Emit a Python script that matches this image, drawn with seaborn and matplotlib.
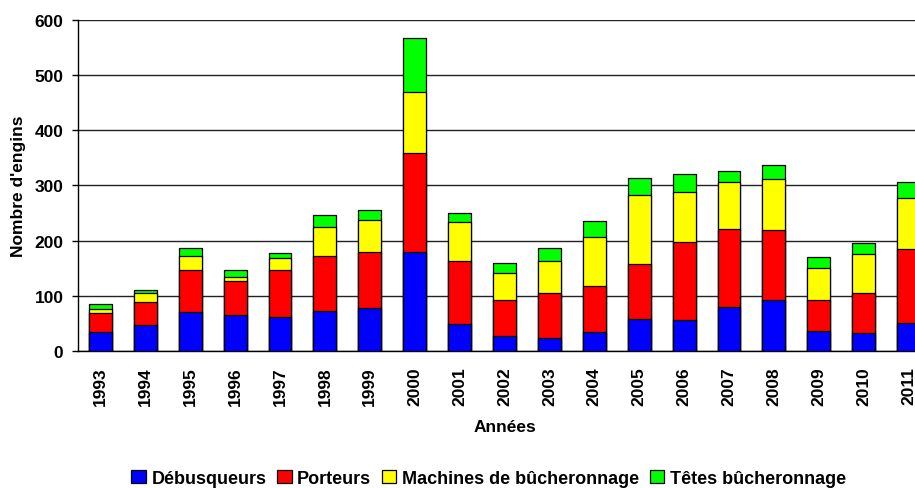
import matplotlib
matplotlib.use("Agg")
import matplotlib.pyplot as plt
import seaborn as sns
import pandas as pd
import numpy as np
from matplotlib.patches import Patch

years = [str(y) for y in range(1993, 2012)]
debusqueurs = [34, 47, 71, 66, 62, 72, 78, 179, 49, 28, 23, 34, 58, 57, 80, 93, 36, 32, 51]
porteurs = [34, 42, 75, 60, 85, 100, 101, 180, 115, 64, 83, 84, 100, 140, 142, 126, 56, 73, 134]
machines = [9, 17, 26, 9, 22, 53, 58, 110, 69, 49, 58, 88, 125, 91, 84, 92, 58, 70, 92]
tetes = [8, 4, 14, 12, 9, 21, 18, 99, 17, 19, 23, 30, 30, 32, 21, 27, 20, 21, 30]

series_names = ["Débusqueurs", "Porteurs", "Machines de bûcheronnage", "Têtes bûcheronnage"]
colors = ["#0000FF", "#FF0000", "#FFFF00", "#00FF00"]

sns.set_theme(style="white")
plt.rcParams["font.family"] = ["Liberation Sans", "DejaVu Sans"]
plt.rcParams["font.weight"] = "bold"
plt.rcParams["text.color"] = "black"
plt.rcParams["axes.labelcolor"] = "black"
plt.rcParams["xtick.color"] = "black"
plt.rcParams["ytick.color"] = "black"

df = pd.DataFrame({"year": years, "d": debusqueurs, "p": porteurs, "m": machines, "t": tetes})
df["c1"] = df["d"]
df["c2"] = df["c1"] + df["p"]
df["c3"] = df["c2"] + df["m"]
df["c4"] = df["c3"] + df["t"]

fig = plt.figure(figsize=(9.15, 4.89), dpi=100)
ax = fig.add_axes([78 / 915, 137 / 489, 853 / 915, 331 / 489])

for col, color in zip(["c4", "c3", "c2", "c1"], colors[::-1]):
    sns.barplot(data=df, x="year", y=col, color=color, ax=ax, width=0.51,
                edgecolor="black", linewidth=0.9, saturation=1, errorbar=None, zorder=3)

ax.set_ylim(0, 600)
ax.set_yticks(range(0, 601, 100))
ax.yaxis.grid(True, color="#222222", linewidth=1.0, zorder=0)
ax.set_axisbelow(True)
for s in ["top", "right"]:
    ax.spines[s].set_visible(False)
ax.spines["left"].set_color("black")
ax.spines["bottom"].set_color("black")
ax.spines["left"].set_linewidth(1.0)
ax.spines["bottom"].set_linewidth(1.0)

ax.tick_params(axis="y", left=True, length=4.5, width=1, color="black", labelcolor="black", pad=6, labelsize=12.5)
ax.tick_params(axis="x", bottom=False, length=0, pad=11, labelcolor="black", labelsize=12.5, labelrotation=90)
for lbl in ax.get_xticklabels() + ax.get_yticklabels():
    lbl.set_fontweight("bold")

ax.set_xlabel("Années", fontsize=12.5, fontweight="bold", labelpad=10, color="black")
ax.set_ylabel("Nombre d'engins", fontsize=12.5, fontweight="bold", labelpad=6, color="black")

handles = [Patch(facecolor=c, edgecolor="black", linewidth=0.9) for c in colors]
leg = fig.legend(handles, series_names, loc="center", bbox_to_anchor=(0.534, 0.02), ncol=4,
                 frameon=False, handlelength=0.8, handleheight=0.8,
                 handletextpad=0.3, columnspacing=0.6, prop={"weight": "bold", "size": 13})
for t in leg.get_texts():
    t.set_color("black")

fig.savefig("out.png", dpi=100)
